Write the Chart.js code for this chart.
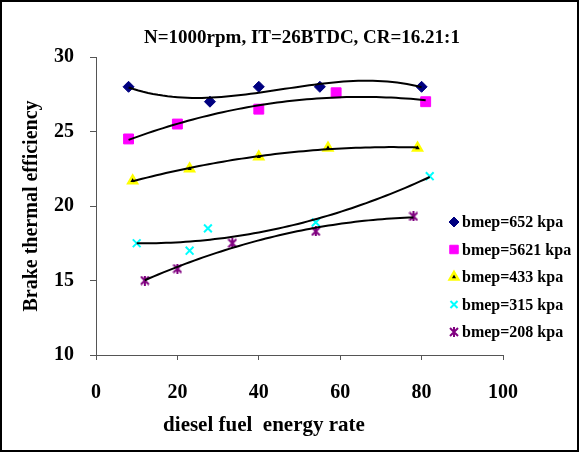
<!DOCTYPE html>
<html>
<head>
<meta charset="utf-8">
<script src="https://cdn.jsdelivr.net/npm/chart.js@4/dist/chart.umd.min.js"></script>
<style>
  html, body { margin: 0; padding: 0; background: #fff; }
  #wrap { width: 579px; height: 452px; }
</style>
</head>
<body>
<div id="wrap"><canvas id="chart"></canvas></div>
<script>
// values
const seriesLabels = ['bmep=652 kpa', 'bmep=5621 kpa', 'bmep=433 kpa', 'bmep=315 kpa', 'bmep=208 kpa'];
const x652 = [8, 28, 40, 55, 80];
const y652 = [28, 27, 28, 28, 28];
const x5621 = [8, 20, 40, 59, 81];
const y5621 = [24.5, 25.5, 26.5, 27.6, 27];
const x433 = [9, 23, 40, 57, 79];
const y433 = [21.7, 22.5, 23.3, 23.9, 23.9];
const x315 = [10, 23, 27.5, 54, 82];
const y315 = [17.5, 17, 18.5, 18.9, 22];
const x208 = [12, 20, 33.5, 54, 78];
const y208 = [15, 15.8, 17.5, 18.3, 19.3];
const trendOrder = [3, 2, 2, 2, 2];   // excel polynomial trendlines
const xTicks = [0, 20, 40, 60, 80, 100];
const yTicks = [10, 15, 20, 25, 30];

const FONT = '"Liberation Serif", "Times New Roman", serif';

// least squares polynomial fit, like excel's trendline
function polyFit(xs, ys, order) {
  const n = order + 1;
  const A = [];
  for (let r = 0; r < n; r++) {
    A.push(new Array(n + 1).fill(0));
    for (let c = 0; c < n; c++) {
      A[r][c] = xs.reduce((s, x) => s + Math.pow(x, r + c), 0);
    }
    A[r][n] = xs.reduce((s, x, i) => s + ys[i] * Math.pow(x, r), 0);
  }
  for (let i = 0; i < n; i++) {
    let p = i;
    for (let k = i + 1; k < n; k++) if (Math.abs(A[k][i]) > Math.abs(A[p][i])) p = k;
    [A[i], A[p]] = [A[p], A[i]];
    for (let k = i + 1; k < n; k++) {
      const f = A[k][i] / A[i][i];
      for (let c = i; c <= n; c++) A[k][c] -= f * A[i][c];
    }
  }
  const coef = new Array(n).fill(0);
  for (let i = n - 1; i >= 0; i--) {
    let s = A[i][n];
    for (let c = i + 1; c < n; c++) s -= A[i][c] * coef[c];
    coef[i] = s / A[i][i];
  }
  return coef;
}

function trendPoints(xs, ys, order) {
  const coef = polyFit(xs, ys, order);
  const lo = Math.min(...xs), hi = Math.max(...xs);
  const pts = [];
  for (let i = 0; i <= 60; i++) {
    const x = lo + (hi - lo) * i / 60;
    pts.push({ x: x, y: coef.reduce((s, c, k) => s + c * Math.pow(x, k), 0) });
  }
  return pts;
}

// excel style "star" marker: an x with a vertical bar through it
function starMarker(color, size) {
  const c = document.createElement('canvas');
  c.width = size;
  c.height = size;
  const g = c.getContext('2d');
  g.strokeStyle = color;
  g.lineWidth = 2;
  g.beginPath();
  g.moveTo(1, 1); g.lineTo(size - 1, size - 1);
  g.moveTo(size - 1, 1); g.lineTo(1, size - 1);
  g.moveTo(size / 2, 0); g.lineTo(size / 2, size);
  g.stroke();
  return c;
}

const xs = [x652, x5621, x433, x315, x208];
const ys = [y652, y5621, y433, y315, y208];
const markers = [
  { pointStyle: 'rectRot', radius: 5.5, backgroundColor: '#000080', borderColor: '#000080', borderWidth: 1 },
  { pointStyle: 'rect', radius: 7, backgroundColor: '#ff00ff', borderColor: '#ff00ff', borderWidth: 1 },
  { pointStyle: 'triangle', radius: 5, backgroundColor: '#000000', borderColor: '#ffff00', borderWidth: 2.5 },
  { pointStyle: 'crossRot', radius: 5.5, backgroundColor: '#00ffff', borderColor: '#00ffff', borderWidth: 2 },
  { pointStyle: starMarker('#800080', 10), radius: 5.5, backgroundColor: '#800080', borderColor: '#800080', borderWidth: 2 }
];

const datasets = [];
seriesLabels.forEach((label, i) => {
  const m = markers[i];
  datasets.push({
    type: 'scatter',
    label: label,
    data: xs[i].map((x, j) => ({ x: x, y: ys[i][j] })),
    pointStyle: m.pointStyle,
    pointRadius: m.radius,
    pointBackgroundColor: m.backgroundColor,
    pointBorderColor: m.borderColor,
    pointBorderWidth: m.borderWidth,
    showLine: false,
    order: 1
  });
});
seriesLabels.forEach((label, i) => {
  datasets.push({
    type: 'line',
    label: label + ' trend',
    data: trendPoints(xs[i], ys[i], trendOrder[i]),
    borderColor: '#000000',
    borderWidth: 2,
    pointRadius: 0,
    tension: 0,
    fill: false,
    order: 0
  });
});

const framePlugin = {
  id: 'frame',
  beforeDraw(chart) {
    const ctx = chart.ctx;
    ctx.save();
    ctx.fillStyle = '#ffffff';
    ctx.fillRect(0, 0, chart.width, chart.height);
    ctx.restore();
  },
  afterDraw(chart) {
    const ctx = chart.ctx;
    ctx.save();
    ctx.strokeStyle = '#000000';
    ctx.lineWidth = 2;
    ctx.strokeRect(1, 1, chart.width - 2, chart.height - 2);
    ctx.fillStyle = '#000000';
    ctx.textAlign = 'center';
    ctx.textBaseline = 'middle';
    ctx.font = 'bold 19px ' + FONT;
    ctx.fillText('N=1000rpm, IT=26BTDC, CR=16.21:1', 302, 38);
    ctx.font = 'bold 21px ' + FONT;
    ctx.fillText('diesel fuel  energy rate', 264, 426);
    ctx.restore();
  }
};

const legendPlugin = {
  id: 'sideLegend',
  afterDatasetsDraw(chart) {
    const ctx = chart.ctx;
    ctx.save();
    ctx.font = 'bold 16px ' + FONT;
    ctx.textBaseline = 'middle';
    ctx.textAlign = 'left';
    seriesLabels.forEach((label, i) => {
      const m = markers[i];
      const y = 222 + i * 27.5;
      ctx.fillStyle = m.backgroundColor;
      ctx.strokeStyle = m.borderColor;
      ctx.lineWidth = m.borderWidth;
      Chart.helpers.drawPoint(ctx, {
        pointStyle: m.pointStyle,
        radius: m.pointStyle === 'rect' ? 6 : 5,
        rotation: 0,
        borderWidth: m.borderWidth
      }, 454, y);
      ctx.fillStyle = '#000000';
      ctx.fillText(label, 462, y + 1);
    });
    ctx.restore();
  }
};

new Chart(document.getElementById('chart'), {
  type: 'scatter',
  data: { datasets: datasets },
  plugins: [framePlugin, legendPlugin],
  options: {
    responsive: true,
    maintainAspectRatio: false,
    animation: false,
    layout: { padding: { top: 57, right: 76, left: 0, bottom: 0 } },
    plugins: {
      legend: { display: false },
      tooltip: { enabled: false },
      title: { display: false }
    },
    scales: {
      x: {
        type: 'linear',
        min: 0,
        max: 100,
        afterBuildTicks: (scale) => { scale.ticks = xTicks.map(v => ({ value: v })); },
        afterFit: (scale) => { scale.height = 97; },
        border: { display: true, color: '#555555', width: 1 },
        grid: { drawOnChartArea: false, drawTicks: true, tickLength: 5, color: '#555555' },
        ticks: { color: '#000000', padding: 21, font: { family: FONT, size: 20, weight: 'bold' } }
      },
      y: {
        type: 'linear',
        min: 10,
        max: 30,
        afterBuildTicks: (scale) => { scale.ticks = yTicks.map(v => ({ value: v })); },
        afterFit: (scale) => { scale.width = 96; },
        border: { display: true, color: '#555555', width: 1 },
        grid: { drawOnChartArea: false, drawTicks: true, tickLength: 6, color: '#555555' },
        ticks: { color: '#000000', padding: 16, font: { family: FONT, size: 20, weight: 'bold' } },
        title: {
          display: true,
          text: 'Brake thermal efficiency',
          color: '#000000',
          padding: { top: 20, bottom: 0 },
          font: { family: FONT, size: 20, weight: 'bold' }
        }
      }
    }
  }
});
</script>
</body>
</html>
